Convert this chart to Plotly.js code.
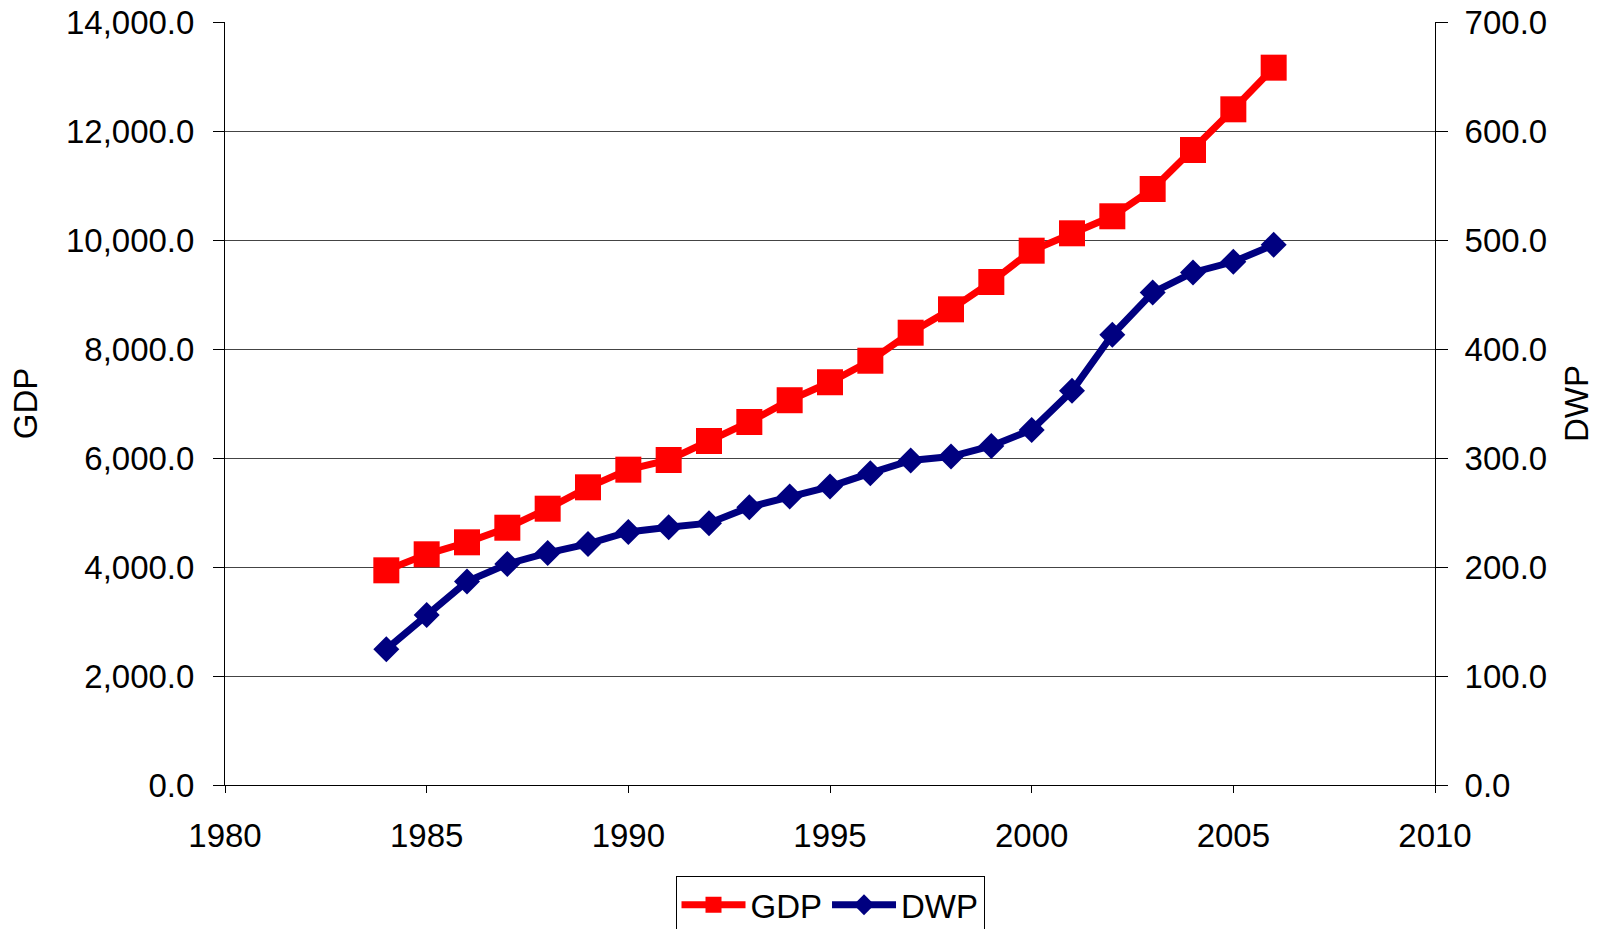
<!DOCTYPE html>
<html>
<head>
<meta charset="utf-8">
<script src="https://cdn.plot.ly/plotly-3.0.1.min.js"></script>
<style>html,body{margin:0;padding:0;background:#fff;}#chart{width:1600px;height:929px;}</style>
</head>
<body>
<div id="chart"></div>
<script>
const years = [1984,1985,1986,1987,1988,1989,1990,1991,1992,1993,1994,1995,1996,1997,1998,1999,2000,2001,2002,2003,2004,2005,2006];
const gdp = [3939,4233,4453,4721,5070,5462,5786,5963,6312,6661,7060,7390,7785,8299,8728,9229,9804,10123,10435,10936,11651,12398,13162];
const dwp = [124.5,156,186.6,202.8,212.9,221.2,232.2,236.5,240.2,254.9,264.6,273.8,286.1,297.7,301.3,311.1,325.8,361.6,413,451.8,470.2,480,495.6];
const seriesNames = ["GDP","DWP"];

const FONT = "Liberation Sans, Arial, sans-serif";
const FS = 33;

const traces = [
  {x: years, y: gdp, name: seriesNames[0], type: "scatter", mode: "lines+markers",
   line: {color: "#ff0000", width: 7}, marker: {symbol: "square", size: 26, color: "#ff0000"}, yaxis: "y"},
  {x: years, y: dwp, name: seriesNames[1], type: "scatter", mode: "lines+markers",
   line: {color: "#000080", width: 7}, marker: {symbol: "diamond", size: 20, color: "#000080"}, yaxis: "y2"}
];

const layout = {
  width: 1600, height: 929,
  margin: {l: 225, r: 165, t: 22, b: 144, pad: 0, autoexpand: false},
  paper_bgcolor: "#fff", plot_bgcolor: "#fff",
  font: {family: FONT, size: FS, color: "#000"},
  showlegend: true,
  xaxis: {
    range: [1980, 2010], dtick: 5, tick0: 1980, showgrid: false, zeroline: false,
    showline: true, linecolor: "#000", linewidth: 1,
    ticks: "outside", ticklen: 7, tickcolor: "#000", tickwidth: 1,
    ticklabelstandoff: 14,
    tickfont: {family: FONT, size: FS, color: "#000"}
  },
  yaxis: {
    range: [0, 14000], dtick: 2000, tickformat: ",.1f",
    showgrid: true, gridcolor: "#444", gridwidth: 1, zeroline: false,
    showline: true, linecolor: "#000", linewidth: 1,
    ticks: "outside", ticklen: 11, tickcolor: "#000", tickwidth: 1,
    ticklabelstandoff: 12,
    tickfont: {family: FONT, size: FS, color: "#000"},
    title: {text: "GDP", font: {family: FONT, size: FS, color: "#000"}, standoff: 18}
  },
  yaxis2: {
    overlaying: "y", side: "right",
    range: [0, 700], dtick: 100, tickformat: ".1f",
    showgrid: false, zeroline: false,
    showline: true, linecolor: "#000", linewidth: 1,
    ticks: "outside", ticklen: 12, tickcolor: "#000", tickwidth: 1,
    ticklabelstandoff: 10,
    tickfont: {family: FONT, size: FS, color: "#000"},
    title: {text: "DWP", font: {family: FONT, size: FS, color: "#000"}, standoff: 18}
  },
  legend: {
    orientation: "h", x: 0.5, xanchor: "center", y: -0.119, yanchor: "top",
    bordercolor: "#000", borderwidth: 1, bgcolor: "#fff",
    font: {family: FONT, size: FS, color: "#000"},
    itemwidth: 64, tracegroupgap: 0
  }
};

Plotly.newPlot("chart", traces, layout, {staticPlot: true, displayModeBar: false});
</script>
</body>
</html>
